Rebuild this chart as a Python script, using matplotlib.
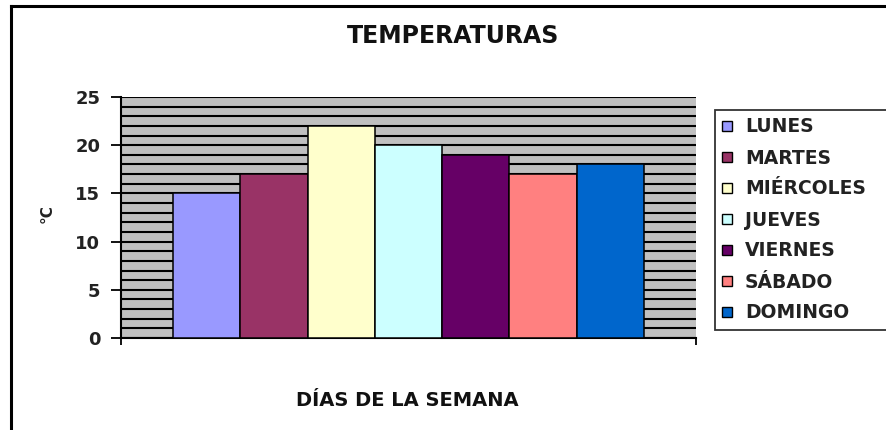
import matplotlib.pyplot as plt
from matplotlib.lines import Line2D
from matplotlib.patches import Patch

dias = ["LUNES", "MARTES", "MIÉRCOLES", "JUEVES", "VIERNES", "SÁBADO", "DOMINGO"]
temperaturas = [15, 17, 22, 20, 19, 17, 18]
colores = ["#9999FF", "#993366", "#FFFFCC", "#CCFFFF", "#660066", "#FF8080", "#0066CC"]

plt.rcParams['font.family'] = ['DejaVu Sans']
plt.rcParams['font.weight'] = 'bold'

fig = plt.figure(figsize=(8.87, 4.30), dpi=100)
ax = fig.add_axes([121/887, 1-338/430, 575/887, 241/430])
ax.set_facecolor("#C0C0C0")

x = list(range(len(dias)))
ax.bar(x, temperaturas, width=1.0, color=colores, edgecolor="black", linewidth=1.1, zorder=3)

ax.set_xlim(-1.27, 7.27)
ax.set_ylim(0, 25)
ax.set_yticks(range(0, 26, 5))
ax.set_yticks(range(0, 26), minor=True)
ax.grid(True, axis="y", which="both", color="black", linewidth=1.5, zorder=1)
ax.set_xticks([-1.27, 7.27])
ax.set_xticklabels(["", ""])
ax.tick_params(axis="x", direction="out", length=5, width=1.3)
ax.tick_params(axis="y", which="major", direction="out", length=7, width=1.3,
               labelsize=13, pad=8, labelcolor="#222222")
ax.tick_params(axis="y", which="minor", length=0)

for s in ["top", "right"]:
    ax.spines[s].set_visible(False)
ax.spines["left"].set_linewidth(1.5)
ax.spines["bottom"].set_linewidth(1.5)

fig.text(453/887, 1-36/430, "TEMPERATURAS", ha="center", va="center",
         fontsize=17, fontweight="bold", color="#111111")
fig.text(47/887, 1-214/430, "°C", ha="center", va="center", rotation=90,
         fontsize=11, fontweight="bold", color="#222222")
fig.text(407/887, 1-400/430, "DÍAS DE LA SEMANA", ha="center", va="center",
         fontsize=14, fontweight="bold", color="#111111")

handles = [Patch(facecolor=c, edgecolor="black", linewidth=1) for c in colores]
leg = fig.legend(handles, dias, loc="upper left",
                 bbox_to_anchor=(715/887, 1-325/430, 172/887, 215/430), mode="expand",
                 frameon=True, fancybox=False, edgecolor="black", fontsize=13.5,
                 handlelength=0.5, handleheight=0.5, handletextpad=0.7,
                 labelspacing=0.64, borderpad=0.4, borderaxespad=0)
leg.get_frame().set_linewidth(1.3)
for t in leg.get_texts():
    t.set_color("#222222")

fig.add_artist(Line2D([11/887, 11/887], [0, 1-6/430], color="black", linewidth=2.2))
fig.add_artist(Line2D([11/887, 1], [1-6/430, 1-6/430], color="black", linewidth=2.2))

fig.savefig("out.png", dpi=100)
